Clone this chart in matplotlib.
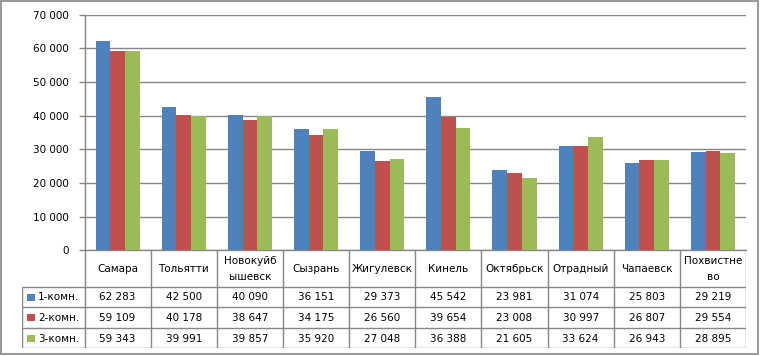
import matplotlib
matplotlib.use("Agg")
import matplotlib.pyplot as plt
from matplotlib.patches import Rectangle
import numpy as np

categories = ["Самара", "Тольятти", "Новокуйб\nышевск", "Сызрань", "Жигулевск",
              "Кинель", "Октябрьск", "Отрадный", "Чапаевск", "Похвистне\nво"]
series_names = ["1-комн.", "2-комн.", "3-комн."]
s1 = [62283, 42500, 40090, 36151, 29373, 45542, 23981, 31074, 25803, 29219]
s2 = [59109, 40178, 38647, 34175, 26560, 39654, 23008, 30997, 26807, 29554]
s3 = [59343, 39991, 39857, 35920, 27048, 36388, 21605, 33624, 26943, 28895]
yticks = [0, 10000, 20000, 30000, 40000, 50000, 60000, 70000]

colors = ["#4F81BD", "#C0504D", "#9BBB59"]
grid_c = "#868686"
W, H = 761, 356
fs = 7.5

def fmt(v):
    return f"{v:,}".replace(",", " ")

fig = plt.figure(figsize=(W/100, H/100), dpi=100)
fig.patch.set_facecolor("white")

# pixel layout
px_l, px_r, px_top, px_axis = 84.5, 746, 14.7, 250.3
tab_l, tab_bot = 22.3, 348.3
row_y = [286.7, 307.3, 328.3, 348.3]

ax = fig.add_axes([px_l/W, (H-px_axis)/H, (px_r-px_l)/W, (px_axis-px_top)/H])
n = len(categories)
x = np.arange(n)
bw = 1/4.5
for i, (vals, c) in enumerate(zip([s1, s2, s3], colors)):
    ax.bar(x + (i-1)*bw, vals, width=bw, color=c, zorder=3, linewidth=0)
ax.set_xlim(-0.5, n-0.5)
ax.set_ylim(0, 70000)
ax.set_yticks(yticks)
ax.set_yticklabels([fmt(v) for v in yticks], fontsize=fs, color="#000000")
ax.set_xticks([])
ax.yaxis.grid(True, color=grid_c, linewidth=1.0, zorder=0)
for s in ["top", "right"]:
    ax.spines[s].set_visible(False)
for s in ["left", "bottom"]:
    ax.spines[s].set_color(grid_c)
    ax.spines[s].set_linewidth(1.0)
ax.tick_params(axis="y", length=4, color=grid_c, width=1.0, pad=7)

# data table
unit = (px_r - px_l) / n
left_x = -0.5 - (px_l - tab_l)/unit
tax = fig.add_axes([tab_l/W, (H-tab_bot)/H, (px_r-tab_l)/W, (tab_bot-px_axis)/H])
tax.set_xlim(left_x, n-0.5)
tax.set_ylim(tab_bot, px_axis)
tax.axis("off")
lk = dict(color=grid_c, linewidth=1.0, solid_capstyle="butt")
for yv in row_y:
    tax.plot([left_x, n-0.5], [yv, yv], **lk)
tax.plot([left_x, left_x], [row_y[0], row_y[-1]], **lk)
for k in range(n+1):
    tax.plot([k-0.5, k-0.5], [px_axis, row_y[-1]], **lk)

hdr_c = (px_axis + row_y[0]) / 2
for i, cat in enumerate(categories):
    parts = cat.split("\n")
    if len(parts) == 1:
        tax.text(i, hdr_c + 0.5, cat, ha="center", va="center", fontsize=fs)
    else:
        tax.text(i, hdr_c - 7.5, parts[0], ha="center", va="center", fontsize=fs)
        tax.text(i, hdr_c + 8.5, parts[1], ha="center", va="center", fontsize=fs)

for r, (name, vals, c) in enumerate(zip(series_names, [s1, s2, s3], colors)):
    yc = (row_y[r] + row_y[r+1]) / 2
    key_x = left_x + 4.5/unit
    tax.add_patch(Rectangle((key_x, yc - 3.5), 8/unit, 7, color=c, linewidth=0))
    tax.text(key_x + 11/unit, yc + 0.5, name, ha="left", va="center", fontsize=fs)
    for i, v in enumerate(vals):
        tax.text(i, yc + 0.5, fmt(v), ha="center", va="center", fontsize=fs)

# outer border
fig.add_artist(Rectangle((0.5/W, (H-354)/H), 757.5/W, 353.5/H, transform=fig.transFigure,
                         fill=False, edgecolor=grid_c, linewidth=1.2))

fig.savefig("out.png", dpi=100)
